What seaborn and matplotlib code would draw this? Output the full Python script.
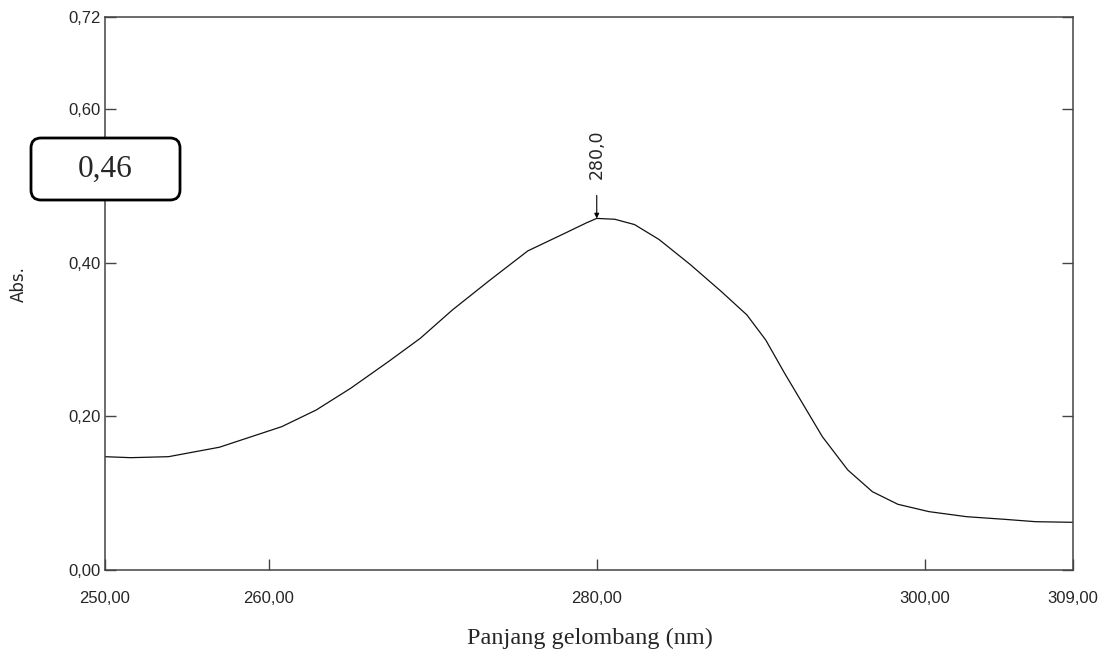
import numpy as np
import pandas as pd
import seaborn as sns
import matplotlib.pyplot as plt
from matplotlib.patches import FancyBboxPatch

# spectrum (wavelength in nm, absorbance)
wavelength = [250.0, 251.6, 253.9, 257.0, 260.8, 262.9, 265.0, 267.3, 269.25,
              271.2, 273.5, 275.8, 278.05, 279.4, 280.0, 281.1, 282.3, 283.8,
              285.7, 287.6, 289.15, 290.3, 291.45, 292.6, 293.75, 295.3, 296.8,
              298.35, 300.25, 302.55, 304.85, 306.75, 309.0]
absorbance = [0.1476, 0.1463, 0.1476, 0.1599, 0.1867, 0.2084, 0.2367, 0.2714,
              0.3019, 0.3387, 0.3778, 0.4157, 0.4386, 0.4525, 0.4580, 0.4569,
              0.4500, 0.4305, 0.3979, 0.3626, 0.3323, 0.2996, 0.2563, 0.2150,
              0.1737, 0.1303, 0.1020, 0.0856, 0.0760, 0.0694, 0.0660, 0.0629,
              0.0621]

x_ticks = [250, 260, 280, 300, 309]
x_labels = ['250,00', '260,00', '280,00', '300,00', '309,00']
y_ticks = [0.0, 0.2, 0.4, 0.6, 0.72]
y_labels = ['0,00', '0,20', '0,40', '0,60', '0,72']
peak_label = '280,0'
box_text = '0,46'

df = pd.DataFrame({'wl': wavelength, 'abs': absorbance})

sns.set_style('ticks')
sans = ['Liberation Sans', 'DejaVu Sans']
serif = ['Liberation Serif', 'DejaVu Serif']

fig = plt.figure(figsize=(11.04, 6.6), dpi=100)
ax = fig.add_axes([0.0947, 0.1364, 0.8768, 0.8374])

sns.lineplot(data=df, x='wl', y='abs', ax=ax, color='#111111', lw=0.9)

ax.set_xlim(250, 309)
ax.set_ylim(0, 0.72)
ax.set_xlabel('')
ax.set_ylabel('')

ax.set_xticks(x_ticks)
ax.set_xticklabels(x_labels, family=sans, fontsize=12)
ax.set_yticks(y_ticks)
ax.set_yticklabels(y_labels, family=sans, fontsize=12)
ax.tick_params(axis='x', direction='in', length=8, width=1, color='#444444',
               pad=15, bottom=True, top=False)
ax.tick_params(axis='y', direction='in', length=8, width=1, color='#444444',
               pad=3, left=True, right=True)

for s in ax.spines.values():
    s.set_color('#444444')
    s.set_linewidth(1.1)

# peak marker
i = int(np.argmax(absorbance))
px, py = wavelength[i], absorbance[i]
ax.annotate('', xy=(px, py), xytext=(px, py + 0.03),
            arrowprops=dict(arrowstyle='-|>', color='black', lw=0.8,
                            mutation_scale=7, shrinkA=0, shrinkB=0))
ax.text(px, py + 0.083, peak_label, rotation=90, ha='center', va='center',
        family='DejaVu Sans', fontsize=12.5)

# axis titles
fig.text(19 / 1104, 1 - 284 / 660, 'Abs.', rotation=90, ha='center', va='center',
         family='DejaVu Sans', fontsize=12)
fig.text(590 / 1104, 1 - 638 / 660, 'Panjang gelombang (nm)', ha='center',
         va='center', family=serif, fontsize=17.5)

# value box
box = FancyBboxPatch((0.31, 4.6), 1.49, 0.62, boxstyle='round,pad=0,rounding_size=0.1',
                     transform=fig.dpi_scale_trans, facecolor='white',
                     edgecolor='black', lw=2, zorder=5)
fig.patches.append(box)
fig.text(105.5 / 1104, 1 - 169 / 660, box_text, ha='center', va='center',
         family=serif, fontsize=22.5, zorder=6)

fig.savefig('out.png', dpi=100)
